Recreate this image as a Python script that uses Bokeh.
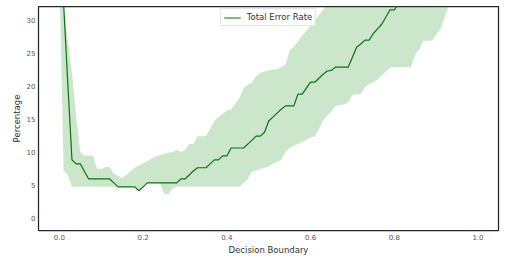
from bokeh.plotting import figure
from bokeh.models import Range1d, FixedTicker, Legend, LegendItem, ColumnDataSource
from bokeh.embed import file_html
from bokeh.resources import INLINE

# Decision boundary grid (0.00 .. 1.00 in steps of 0.01)
boundary = [round(i * 0.01, 2) for i in range(101)]

# Mean total error rate (%)
error_rate = [
    60.0, 32.5, 20.4, 8.8, 8.2, 8.2, 7.0, 5.9, 5.9, 5.9,
    5.9, 5.9, 5.9, 5.3, 4.7, 4.7, 4.7, 4.7, 4.7, 4.1,
    4.7, 5.3, 5.3, 5.3, 5.3, 5.3, 5.3, 5.3, 5.3, 5.9,
    5.9, 6.5, 7.1, 7.6, 7.6, 7.6, 8.2, 8.8, 8.8, 9.4,
    9.4, 10.6, 10.6, 10.6, 10.6, 11.2, 11.8, 12.4, 12.4, 13.0,
    14.7, 15.3, 15.9, 16.5, 17.0, 17.0, 17.0, 18.8, 18.8, 19.7,
    20.6, 20.6, 21.2, 21.8, 22.3, 22.4, 22.9, 22.9, 22.9, 22.9,
    24.4, 25.9, 26.4, 27.0, 27.0, 28.0, 28.7, 29.4, 30.5, 31.6,
    31.6, 32.5, 33.0, 33.6, 34.2, 34.8, 35.4, 36.1, 36.8, 37.5,
    38.2, 38.9, 39.6, 40.2, 40.9, 41.5, 42.1, 42.8, 43.4, 44.0,
    44.6,
]

# Lower edge of the spread band (%)
error_low = [
    37.0, 7.2, 6.5, 4.7, 4.7, 4.7, 4.7, 4.7, 4.7, 4.7,
    4.7, 4.7, 4.7, 4.7, 4.7, 4.7, 4.7, 4.7, 4.7, 4.1,
    4.7, 5.3, 5.3, 5.3, 5.3, 3.6, 3.6, 4.4, 4.7, 4.7,
    4.7, 4.7, 4.7, 4.7, 4.7, 4.7, 4.7, 4.7, 4.7, 4.7,
    4.7, 4.7, 4.7, 4.7, 5.3, 5.9, 7.0, 7.2, 7.4, 7.6,
    7.8, 8.2, 8.5, 8.8, 10.0, 10.6, 11.0, 11.2, 11.5, 11.8,
    12.2, 12.4, 13.5, 14.8, 15.5, 16.2, 17.0, 17.1, 17.2, 17.6,
    18.6, 18.8, 18.8, 19.8, 20.3, 20.6, 21.0, 21.7, 22.2, 22.8,
    22.9, 22.9, 22.9, 22.9, 22.9, 24.8, 25.6, 26.9, 26.9, 26.9,
    27.8, 28.6, 30.4, 32.2, 34.0, 35.0, 36.0, 37.0, 38.0, 39.0,
    40.0,
]

# Upper edge of the spread band (%)
error_high = [
    60.0, 32.5, 27.0, 22.0, 15.3, 10.0, 9.45, 9.45, 9.45, 7.4,
    7.4, 7.7, 7.7, 6.7, 6.4, 6.0, 6.5, 7.1, 7.6, 8.0,
    8.3, 8.6, 9.0, 9.3, 9.5, 9.7, 9.9, 10.0, 10.3, 10.0,
    10.3, 11.2, 11.2, 12.4, 12.4, 12.4, 13.5, 14.7, 15.3, 15.8,
    16.3, 16.5, 17.3, 18.2, 19.7, 20.2, 20.6, 21.5, 22.0, 22.2,
    22.4, 22.5, 22.6, 22.9, 23.2, 25.5, 26.0, 26.8, 27.7, 28.4,
    29.2, 30.0, 30.8, 31.6, 32.4, 33.2, 33.9, 34.6, 35.3, 36.0,
    36.7, 37.4, 38.1, 38.8, 39.5, 40.2, 40.9, 41.6, 42.3, 43.0,
    43.7, 44.4, 45.1, 45.8, 46.5, 47.2, 47.9, 48.6, 49.3, 50.0,
    50.7, 51.4, 52.1, 52.8, 53.5, 54.2, 54.9, 55.6, 56.3, 57.0,
    57.7,
]

x_ticks = [0.0, 0.2, 0.4, 0.6, 0.8, 1.0]
x_tick_labels = ["0.0", "0.2", "0.4", "0.6", "0.8", "1.0"]
y_ticks = [0, 5, 10, 15, 20, 25, 30]

FONT = "DejaVu Sans"

p = figure(
    width=523, height=262,
    output_backend="svg", toolbar_location=None,
    x_range=Range1d(-0.05, 1.049), y_range=Range1d(-1.93, 32.1),
    min_border_left=38, min_border_right=25, min_border_top=6, min_border_bottom=32,
)
p.background_fill_color = "white"
p.border_fill_color = "white"
p.outline_line_color = "#262626"
p.outline_line_width = 1.25
p.grid.visible = False

src = ColumnDataSource(dict(x=boundary, y=error_rate, lo=error_low, hi=error_high))
p.varea(x="x", y1="lo", y2="hi", source=src, fill_color="green", fill_alpha=0.2)
r = p.line("x", "y", source=src, line_color="#0a740a", line_width=1.2)

p.xaxis.ticker = FixedTicker(ticks=x_ticks)
p.xaxis.major_label_overrides = {t: l for t, l in zip(x_ticks, x_tick_labels)}
p.yaxis.ticker = FixedTicker(ticks=y_ticks)

for ax in (p.xaxis[0], p.yaxis[0]):
    ax.axis_line_color = None
    ax.major_tick_line_color = None
    ax.minor_tick_line_color = None
    ax.major_tick_out = 0
    ax.major_tick_in = 0
    ax.major_label_text_font = FONT
    ax.major_label_text_font_size = "7px"
    ax.major_label_text_color = "#555555"
    ax.axis_label_text_font = FONT
    ax.axis_label_text_font_size = "8.5px"
    ax.axis_label_text_font_style = "normal"
    ax.axis_label_text_color = "#333333"
    ax.major_label_standoff = 3
    ax.axis_label_standoff = 2

p.xaxis.axis_label = "Decision Boundary"
p.yaxis.axis_label = "Percentage"

legend = Legend(
    items=[LegendItem(label="Total Error Rate", renderers=[r])],
    location="top_center",
    label_text_font=FONT,
    label_text_font_size="8.5px",
    label_text_color="#333333",
    glyph_width=17, glyph_height=9, label_height=9,
    label_standoff=6, padding=3, margin=2, spacing=0,
    border_line_color="#cccccc", border_line_width=1,
    background_fill_color="white", background_fill_alpha=0.8,
)
p.add_layout(legend)

open("out.html", "w").write(file_html(p, INLINE))
